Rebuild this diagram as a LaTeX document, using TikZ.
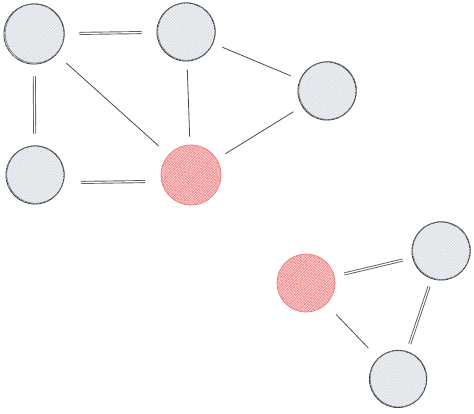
\documentclass[tikz,border=0pt]{standalone}
\usetikzlibrary{patterns.meta}
\definecolor{gfill}{HTML}{EEF1F4}
\definecolor{ghatch}{HTML}{C9D0D8}
\definecolor{rfill}{HTML}{FFD6D6}
\definecolor{rhatch}{HTML}{E8595C}
\definecolor{ink}{HTML}{2A2A2A}
\begin{document}
\begin{tikzpicture}[x=1pt,y=-1pt,
  gnode/.style={circle, inner sep=0pt, minimum size=#1, draw=ink, line width=0.9pt, fill=gfill,
    postaction={pattern={Lines[angle=45,distance=2.2pt,line width=0.35pt]}, pattern color=ghatch},
    postaction={pattern={Lines[angle=-45,distance=3.2pt,line width=0.3pt]}, pattern color=ghatch!60}},
  rnode/.style={circle, inner sep=0pt, minimum size=#1, draw=rhatch!80, line width=0.7pt, fill=rfill,
    postaction={pattern={Lines[angle=45,distance=1.8pt,line width=0.4pt]}, pattern color=rhatch!85},
    postaction={pattern={Lines[angle=-45,distance=2.2pt,line width=0.4pt]}, pattern color=rhatch!70}},
  sgl/.style={draw=ink!85, line width=0.8pt, shorten <=#1, shorten >=#1},
  dbl/.style={draw=ink!75, line width=0.9pt, double=white, double distance=1.2pt, shorten <=#1, shorten >=#1},
]
\useasboundingbox (0,0) rectangle (474,413);
\node[gnode=60pt] (n1) at (34,34) {};
\node[gnode=58pt] (n2) at (186,32) {};
\node[gnode=58pt] (n3) at (327,91) {};
\node[gnode=58pt] (n4) at (35,175) {};
\node[rnode=60pt] (n5) at (191,175) {};
\node[rnode=58pt] (n6) at (306,283) {};
\node[gnode=58pt] (n7) at (441,251) {};
\node[gnode=57pt] (n8) at (398,379) {};
% sketchy second outlines
\draw[ink!70, line width=0.5pt] (34.8,33.4) circle (29.6);
\draw[ink!70, line width=0.5pt] (186.6,31.5) circle (28.8);
\draw[ink!70, line width=0.5pt] (327.7,90.5) circle (28.9);
\draw[ink!70, line width=0.5pt] (35.6,174.5) circle (28.8);
\draw[ink!70, line width=0.5pt] (441.6,250.5) circle (28.9);
\draw[ink!70, line width=0.5pt] (398.6,378.5) circle (28.4);
\path[dbl=15pt] (n1) -- (n2);
\path[dbl=12pt] (n1) -- (n4);
\path[sgl=13pt] (n1) -- (n5);
\path[sgl=8pt] (n2) -- (n5);
\path[sgl=10pt] (n2) -- (n3);
\path[sgl=10pt] (n3) -- (n5);
\path[dbl=46pt] ([yshift=-8pt]n4.center) -- ([yshift=-6pt]n5.center);
\path[dbl=10pt] (n6) -- (n7);
\path[sgl=14pt] (n6) -- (n8);
\path[dbl=8pt] (n7) -- (n8);
\end{tikzpicture}
\end{document}
